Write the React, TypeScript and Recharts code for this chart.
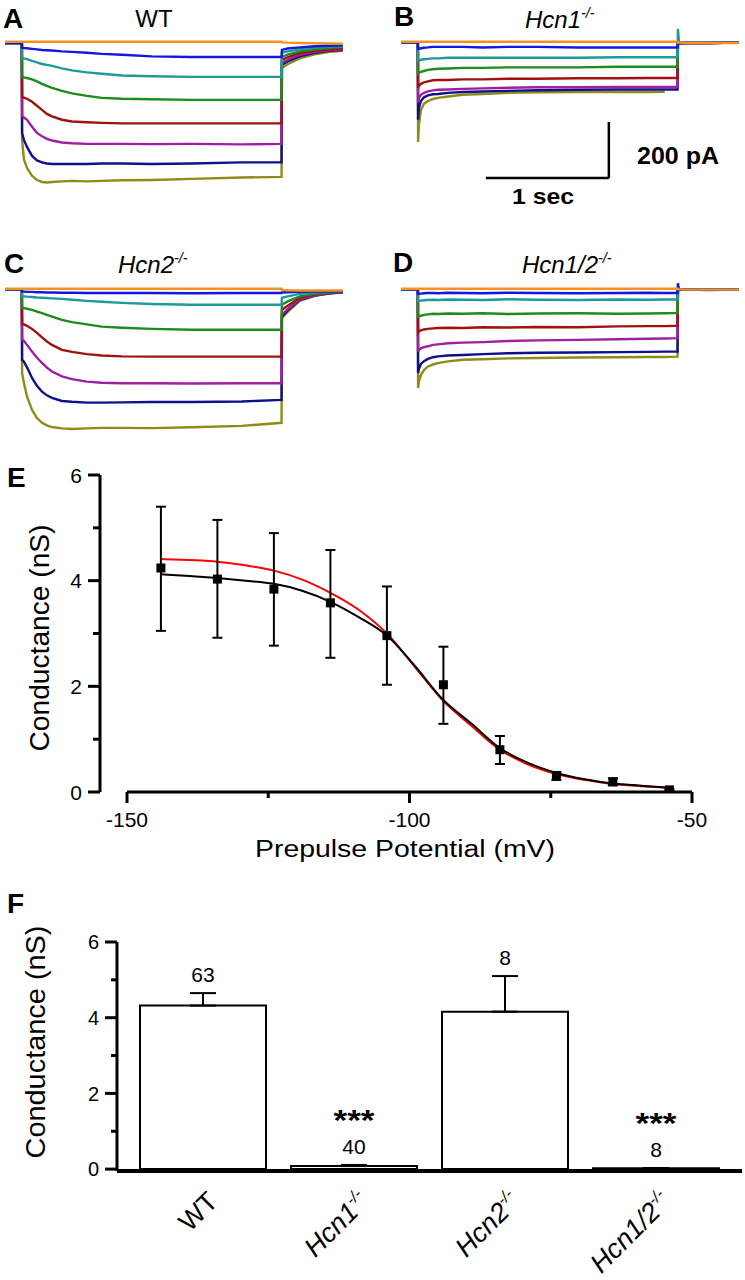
import React from 'react';
import {
  LineChart, Line, XAxis, YAxis, ReferenceLine, ComposedChart, Scatter, ErrorBar, Bar, LabelList,
} from 'recharts';

const FONT = "'Liberation Sans', Arial, Helvetica, sans-serif";

// ---------------- Panels A-D: current traces (pA) vs time (ms) ----------------
const traceOrder = ['olive', 'navy', 'purple', 'red', 'green', 'teal', 'blue', 'orange'];
const traceColors: Record<string, string> = {
  orange: '#F5921C', blue: '#1616E2', teal: '#1E9A9A', green: '#1C8C1C',
  red: '#A01212', purple: '#A01EA0', navy: '#10108C', olive: '#8E8C16',
};

const timeAC = [0, 137, 139, 154, 179, 220, 260, 301, 341, 382, 463, 545, 666, 788, 951, 1195, 1520, 1927, 2250, 2253, 2300, 2398, 2520, 2642, 2748];
const timeBD = [0, 137, 139, 146, 162, 187, 219, 260, 301, 382, 504, 666, 870, 1114, 1439, 1764, 2008, 2146, 2244, 2250, 2253, 2262, 2320, 2500, 2750];

// A: WT
const orangeA = [0, 0, 0, 0, 0, 0, 0, 0, 0, 0, 0, 0, 0, 0, 0, 0, 0, 0, 0, -2, -3, -4, -5, -6, -7];
const blueA = [-4, -4, -21, -22, -23, -25, -27, -29, -30, -31, -34, -36, -39, -43, -46, -52, -54, -54, -54, -29, -24, -20, -16, -14, -12];
const tealA = [-4, -4, -57, -59, -62, -68, -73, -79, -82, -86, -95, -102, -109, -114, -120, -123, -125, -125, -125, -39, -34, -27, -21, -18, -16];
const greenA = [-4, -4, -125, -127, -129, -134, -141, -150, -157, -164, -175, -184, -193, -200, -203, -205, -207, -207, -207, -54, -46, -34, -27, -21, -18];
const redA = [-4, -4, -196, -199, -203, -214, -228, -243, -257, -266, -278, -284, -287, -289, -291, -291, -291, -291, -291, -64, -55, -39, -32, -27, -23];
const purpleA = [-4, -4, -264, -270, -278, -303, -325, -337, -346, -352, -359, -362, -364, -364, -364, -365, -364, -366, -364, -75, -64, -46, -36, -30, -27];
const navyA = [-4, -4, -325, -350, -375, -407, -423, -430, -434, -436, -436, -436, -436, -434, -434, -436, -434, -430, -430, -82, -70, -52, -39, -32, -29];
const oliveA = [-4, -4, -350, -420, -450, -478, -493, -500, -502, -500, -498, -496, -498, -496, -494, -493, -489, -484, -482, -93, -80, -59, -45, -36, -32];

// B: Hcn1-/-
const orangeB = [0, 0, 0, 0, 0, 0, 0, 0, 0, 0, 0, 0, 0, 0, 0, 0, 0, 0, 0, 0, -3, -3, -4, -4, -4];
const blueB = [-3, -3, -25, -25, -23, -21, -20, -18, -18, -18, -18, -20, -18, -18, -20, -20, -20, -20, -20, -20, -4, -4, -4, -4, -3];
const tealB = [-3, -3, -68, -68, -64, -62, -61, -59, -59, -57, -57, -57, -57, -57, -57, -55, -55, -55, -55, -55, 46, -4, -4, -4, -3];
const greenB = [-3, -3, -114, -111, -107, -104, -100, -98, -96, -95, -93, -93, -91, -91, -91, -89, -89, -89, -89, -89, -5, -4, -4, -4, -3];
const redB = [-3, -3, -164, -157, -150, -145, -141, -137, -136, -136, -134, -134, -132, -132, -130, -130, -129, -129, -129, -129, -5, -4, -4, -4, -3];
const purpleB = [-3, -3, -218, -200, -189, -182, -177, -173, -171, -170, -168, -166, -164, -162, -162, -161, -161, -161, -161, -161, -5, -5, -4, -4, -3];
const navyB = [-3, -3, -278, -236, -211, -198, -191, -187, -186, -182, -179, -177, -175, -173, -171, -170, -170, -170, -170, -170, -5, -5, -4, -4, -3];
const oliveB = [-3, -3, -357, -296, -243, -221, -211, -204, -200, -195, -189, -186, -182, -180, -179, -179, -179, -178, null, null, null, null, null, null, null];

// C: Hcn2-/-
const orangeC = [0, 0, 0, 0, 0, 0, 0, 0, 0, 0, 0, 0, 0, 0, 0, 0, 0, 0, 0, -4, -5, -6, -6, -6, -6];
const blueC = [-2, -2, -10, -10, -11, -11, -12, -12, -13, -13, -14, -14, -15, -15, -15, -15, -16, -15, -15, -13, -12, -11, -10, -10, -9];
const tealC = [-2, -2, -27, -27, -28, -29, -31, -32, -33, -34, -36, -39, -43, -46, -50, -54, -57, -57, -57, -32, -27, -18, -13, -11, -9];
const greenC = [-2, -2, -68, -69, -71, -75, -81, -87, -93, -99, -111, -119, -127, -135, -139, -143, -146, -146, -146, -57, -45, -27, -18, -13, -10];
const redC = [-2, -2, -125, -127, -132, -143, -157, -173, -188, -200, -218, -225, -233, -238, -241, -242, -242, -242, -242, -75, -60, -32, -20, -14, -11];
const purpleC = [-2, -2, -182, -186, -200, -224, -246, -264, -281, -295, -312, -322, -331, -335, -337, -337, -338, -337, -337, -93, -72, -38, -23, -15, -12];
const navyC = [-2, -2, -253, -260, -280, -318, -346, -367, -380, -389, -400, -403, -406, -406, -405, -404, -404, -402, -396, -99, -77, -40, -24, -16, -12];
const oliveC = [-2, -2, -300, -336, -384, -432, -461, -478, -487, -493, -498, -500, -498, -496, -496, -497, -494, -489, -478, -104, -82, -43, -25, -17, -13];

// D: Hcn1/2-/-
const orangeD = [0, 0, 0, 0, 0, 0, 0, 0, 0, 0, 0, 0, 0, 0, 0, 0, 0, 0, 0, 0, -2, -2, -3, -3, -3];
const blueD = [-2, -2, -18, -18, -17, -16, -15, -15, -16, -14, -15, -16, -14, -15, -16, -15, -14, -15, -15, -15, 20, -4, -3, -4, -3];
const tealD = [-2, -2, -43, -43, -42, -41, -40, -39, -40, -38, -39, -40, -37, -39, -40, -38, -39, -38, -38, -38, -3, -3, -3, -3, -3];
const greenD = [-2, -2, -100, -98, -96, -93, -91, -89, -90, -88, -89, -87, -90, -88, -87, -89, -88, -87, -86, -86, -3, -3, -3, -3, -3];
const redD = [-2, -2, -157, -152, -148, -145, -143, -141, -140, -139, -140, -137, -138, -136, -137, -134, -133, -133, -132, -132, -3, -3, -3, -3, -3];
const purpleD = [-2, -2, -224, -218, -212, -208, -205, -200, -198, -194, -192, -190, -186, -184, -182, -180, -178, -177, -176, -176, -3, -3, -3, -3, -3];
const navyD = [-2, -2, -300, -285, -268, -258, -250, -244, -241, -238, -236, -233, -230, -228, -227, -226, -225, -224, -224, -224, -3, -3, -3, -3, -3];
const oliveD = [-2, -2, -354, -330, -307, -290, -277, -270, -265, -259, -253, -251, -248, -247, -245, -244, -243, -243, -242, -242, -3, -3, -3, -3, -3];

// scale bar (panel B): 1 sec horizontal, 200 pA vertical
const scaleBarTime = [691, 1691];
const scaleBarCurrent = [-286, -486];

// ---------------- Panel E ----------------
const ePotential = [-144, -134, -124, -114, -104, -94, -84, -74, -64, -54];
const eMean = [4.24, 4.03, 3.84, 3.58, 2.96, 2.03, 0.80, 0.30, 0.19, 0.04];
const eErrUp = [1.16, 1.12, 1.06, 1.00, 0.93, 0.72, 0.26, 0.08, 0.07, 0.02];
const eErrDown = [1.19, 1.11, 1.07, 1.04, 0.93, 0.74, 0.27, 0.07, 0.06, 0.02];
const fitPotential = [-144, -139, -134, -129, -124, -119, -114, -109, -104, -99, -94, -89, -84, -79, -74, -69, -64, -59, -54];
const blackFit = [4.12, 4.09, 4.05, 4.00, 3.94, 3.81, 3.60, 3.31, 2.96, 2.38, 1.74, 1.29, 0.83, 0.55, 0.36, 0.24, 0.16, 0.12, 0.08];
const redFit = [4.41, 4.39, 4.36, 4.29, 4.19, 4.02, 3.77, 3.45, 3.00, 2.36, 1.72, 1.25, 0.80, 0.52, 0.34, 0.23, 0.15, 0.11, 0.08];
const eXTicks = [-150, -125, -100, -75, -50];
const eXLabeled = [-150, -100, -50];
const yTicks = [0, 1, 2, 3, 4, 5, 6];

// ---------------- Panel F ----------------
const genotypes = ['WT', 'Hcn1', 'Hcn2', 'Hcn1/2'];
const genotypeSup = ['', '-/-', '-/-', '-/-'];
const conductance = [4.32, 0.08, 4.16, 0.02];
const semUp = [0.33, 0.03, 0.94, 0.01];
const nCells = ['63', '40', '8', '8'];
const significance = ['', '***', '', '***'];

// ---------------- helpers ----------------
const buildRows = (times: number[], series: Record<string, (number | null)[]>) =>
  times.map((t, i) => {
    const r: any = { t };
    Object.keys(series).forEach((k) => { r[k] = series[k][i]; });
    return r;
  });

const rowsA = buildRows(timeAC, { orange: orangeA, blue: blueA, teal: tealA, green: greenA, red: redA, purple: purpleA, navy: navyA, olive: oliveA });
const rowsB = buildRows(timeBD, { orange: orangeB, blue: blueB, teal: tealB, green: greenB, red: redB, purple: purpleB, navy: navyB, olive: oliveB });
const rowsC = buildRows(timeAC, { orange: orangeC, blue: blueC, teal: tealC, green: greenC, red: redC, purple: purpleC, navy: navyC, olive: oliveC });
const rowsD = buildRows(timeBD, { orange: orangeD, blue: blueD, teal: tealD, green: greenD, red: redD, purple: purpleD, navy: navyD, olive: oliveD });

const ePoints = ePotential.map((v, i) => ({ v, g: eMean[i], err: [eErrDown[i], eErrUp[i]] }));
const blackRows = fitPotential.map((v, i) => ({ v, g: blackFit[i] }));
const redRows = fitPotential.map((v, i) => ({ v, g: redFit[i] }));
const barRows = genotypes.map((name, i) => ({ name, g: conductance[i], err: [0, semUp[i]] }));

const TRACE_DOMAIN: [number, number] = [-550, 60];
const TRACE_H = 171;
const TRACE_W = 338;

function TracePanel({ rows, left, baseline, children }: any) {
  const top = baseline - (TRACE_DOMAIN[1] * TRACE_H) / (TRACE_DOMAIN[1] - TRACE_DOMAIN[0]);
  return (
    <div style={{ position: 'absolute', left, top }}>
      <LineChart width={TRACE_W} height={TRACE_H} data={rows} margin={{ top: 0, right: 0, bottom: 0, left: 0 }}>
        <XAxis type="number" dataKey="t" domain={[0, 2750]} allowDataOverflow hide />
        <YAxis type="number" domain={TRACE_DOMAIN} allowDataOverflow hide />
        {traceOrder.map((k) => (
          <Line key={k} type="linear" dataKey={k} stroke={traceColors[k]} strokeWidth={2.4}
            dot={false} isAnimationActive={false} connectNulls={false} />
        ))}
        {children}
      </LineChart>
    </div>
  );
}

const EXTick = (props: any) => {
  const { x, y, payload } = props;
  const major = eXLabeled.includes(payload.value);
  return (
    <g>
      <line x1={x} x2={x} y1={y} y2={y + (major ? 11 : 6)} stroke="#000" strokeWidth={3} />
      {major && (
        <text x={x} y={y + 35} textAnchor="middle" fontSize={21} fontFamily={FONT} fill="#000">{payload.value}</text>
      )}
    </g>
  );
};

const makeYTick = (fontSize: number, majorLen: number, minorLen: number) => (props: any) => {
  const { x, y, payload } = props;
  const major = payload.value % 2 === 0;
  return (
    <g>
      <line x1={x - (major ? majorLen : minorLen)} x2={x} y1={y} y2={y} stroke="#000" strokeWidth={3} />
      {major && (
        <text x={x - 18} y={y} dy="0.36em" textAnchor="end" fontSize={fontSize} fontFamily={FONT} fill="#000">{payload.value}</text>
      )}
    </g>
  );
};
const EYTick = makeYTick(21, 12, 7);
const FYTick = makeYTick(20, 12, 6);

const FXTick = (props: any) => {
  const { x, y, payload } = props;
  const i = genotypes.indexOf(payload.value);
  const italic = i > 0;
  return (
    <text transform={`translate(${x + 17},${y + 32}) rotate(-45)`} textAnchor="end" fontSize={27}
      fontFamily={FONT} fontStyle={italic ? 'italic' : 'normal'} fill="#000">
      {payload.value}
      {genotypeSup[i] ? <tspan dy={-11} fontSize={16}>{genotypeSup[i]}</tspan> : null}
    </text>
  );
};

const BarLabel = (props: any) => {
  const vb = props.viewBox || {};
  const x = props.x ?? vb.x;
  const y = props.y ?? vb.y;
  const width = props.width ?? vb.width;
  const h = props.height ?? vb.height;
  let i = props.index;
  if (i === undefined || i === null) i = conductance.indexOf(props.value);
  if (i < 0 || x === undefined) return null;
  const top = Math.min(y, y + h);
  const pxPerUnit = Math.abs(h) / conductance[i];
  const errTop = top - semUp[i] * pxPerUnit;
  const cx = x + width / 2;
  return (
    <g>
      <text x={cx} y={errTop - 11} textAnchor="middle" fontSize={21} fontFamily={FONT} fill="#000">{nCells[i]}</text>
      {significance[i] ? (
        <text x={cx} y={errTop - 35} textAnchor="middle" fontSize={30} fontWeight="bold" fontFamily={FONT} fill="#000"
          textLength={41} lengthAdjust="spacingAndGlyphs">{significance[i]}</text>
      ) : null}
    </g>
  );
};

const SquareDot = (props: any) => {
  const { cx, cy } = props;
  if (cx === undefined || cy === undefined) return <g />;
  return <rect x={cx - 4.5} y={cy - 4.5} width={9} height={9} fill="#000" />;
};

function Title({ x, y, main, sup, italic, size = 24 }: any) {
  return (
    <text x={x} y={y} fontSize={size} fontFamily={FONT} fontStyle={italic ? 'italic' : 'normal'} fill="#000">
      {main}
      <tspan dy={-size * 0.42} fontSize={size * 0.6}>{sup}</tspan>
    </text>
  );
}

const letterStyle = { fontSize: 28, fontWeight: 'bold' as const, fontFamily: FONT, fill: '#000' };

export default function App() {
  return (
    <div style={{ position: 'absolute', left: 0, top: 0, width: 745, height: 1280, background: '#fff', overflow: 'hidden', fontFamily: FONT }}>
      {/* A-D traces */}
      <TracePanel rows={rowsA} left={5} baseline={42} />
      <TracePanel rows={rowsB} left={401} baseline={42}>
        <ReferenceLine
          segment={[{ x: scaleBarTime[0], y: scaleBarCurrent[1] }, { x: scaleBarTime[1], y: scaleBarCurrent[1] }]}
          stroke="#000" strokeWidth={2.5} ifOverflow="visible" />
        <ReferenceLine
          segment={[{ x: scaleBarTime[1], y: scaleBarCurrent[0] }, { x: scaleBarTime[1], y: scaleBarCurrent[1] }]}
          stroke="#000" strokeWidth={2.5} ifOverflow="visible" />
      </TracePanel>
      <TracePanel rows={rowsC} left={5} baseline={289} />
      <TracePanel rows={rowsD} left={401} baseline={289} />

      {/* E */}
      <div style={{ position: 'absolute', left: 0, top: 465 }}>
        <ComposedChart width={745} height={372} margin={{ top: 10, right: 53, bottom: 5, left: 0 }}>
          <XAxis type="number" dataKey="v" domain={[-154.78, -50]} allowDataOverflow ticks={eXTicks} interval={0}
            axisLine={false} tickLine={false} tickSize={0} tickMargin={0} height={40} tick={EXTick} />
          <YAxis type="number" dataKey="g" domain={[0, 6]} allowDataOverflow ticks={yTicks} interval={0} width={100}
            axisLine={{ stroke: '#000', strokeWidth: 3 }} tickLine={false} tickSize={0} tickMargin={0} tick={EYTick} />
          <ReferenceLine segment={[{ x: -150, y: 0 }, { x: -50, y: 0 }]} stroke="#000" strokeWidth={3} ifOverflow="visible" />
          <Line data={redRows} dataKey="g" type="monotone" stroke="#FF0000" strokeWidth={2} dot={false} isAnimationActive={false} />
          <Line data={blackRows} dataKey="g" type="monotone" stroke="#000" strokeWidth={2} dot={false} isAnimationActive={false} />
          <Scatter data={ePoints} dataKey="g" fill="#000" shape={SquareDot} isAnimationActive={false}>
            <ErrorBar dataKey="err" direction="y" width={5} stroke="#000" strokeWidth={2} />
          </Scatter>
        </ComposedChart>
      </div>

      {/* F */}
      <div style={{ position: 'absolute', left: 0, top: 930 }}>
        <ComposedChart width={745} height={348} data={barRows} margin={{ top: 12, right: 3, bottom: 0, left: 0 }}>
          <XAxis dataKey="name" type="category" padding={{ left: 10, right: 11 }} interval={0}
            axisLine={{ stroke: '#000', strokeWidth: 4 }} tickLine={false} tickSize={0} tickMargin={0} height={107} tick={FXTick} />
          <YAxis yAxisId="sp" width={29} type="number" domain={[-0.05, 6]} allowDataOverflow axisLine={false} tickLine={false} tick={false} />
          <YAxis yAxisId="main" width={88} type="number" domain={[-0.05, 6]} allowDataOverflow ticks={yTicks} interval={0}
            axisLine={{ stroke: '#000', strokeWidth: 3 }} tickLine={false} tickSize={0} tickMargin={0} tick={FYTick} />
          <Bar yAxisId="main" dataKey="g" barSize={126} fill="#fff" stroke="#000" strokeWidth={2} isAnimationActive={false}>
            <ErrorBar dataKey="err" direction="y" width={13} stroke="#000" strokeWidth={2} />
            <LabelList dataKey="g" content={BarLabel} />
          </Bar>
        </ComposedChart>
      </div>

      {/* Text overlay */}
      <svg width={745} height={1280} style={{ position: 'absolute', left: 0, top: 0, pointerEvents: 'none' }}>
        <text x={3} y={28} {...letterStyle}>A</text>
        <text x={394} y={26} {...letterStyle}>B</text>
        <text x={4} y={273} {...letterStyle}>C</text>
        <text x={393} y={272} {...letterStyle}>D</text>
        <text x={7} y={487} {...letterStyle}>E</text>
        <text x={7} y={913} {...letterStyle}>F</text>

        <text x={154} y={27} textAnchor="middle" fontSize={24} fontFamily={FONT} fill="#000">WT</text>
        <Title x={525} y={28} main="Hcn1" sup="-/-" italic />
        <Title x={118} y={273} main="Hcn2" sup="-/-" italic />
        <Title x={522} y={273} main="Hcn1/2" sup="-/-" italic />

        <text x={637} y={164} fontSize={23} fontWeight="bold" fontFamily={FONT} fill="#000" textLength={82} lengthAdjust="spacingAndGlyphs">200 pA</text>
        <text x={512} y={204} fontSize={22} fontWeight="bold" fontFamily={FONT} fill="#000" textLength={62} lengthAdjust="spacingAndGlyphs">1 sec</text>

        <text x={405} y={857} textAnchor="middle" fontSize={23} fontFamily={FONT} fill="#000" textLength={300} lengthAdjust="spacingAndGlyphs">Prepulse Potential (mV)</text>
        <text transform="translate(49,638) rotate(-90)" textAnchor="middle" fontSize={27} fontFamily={FONT} fill="#000" textLength={227} lengthAdjust="spacingAndGlyphs">Conductance (nS)</text>
        <text transform="translate(45,1042) rotate(-90)" textAnchor="middle" fontSize={28} fontFamily={FONT} fill="#000" textLength={233} lengthAdjust="spacingAndGlyphs">Conductance (nS)</text>
      </svg>
    </div>
  );
}
